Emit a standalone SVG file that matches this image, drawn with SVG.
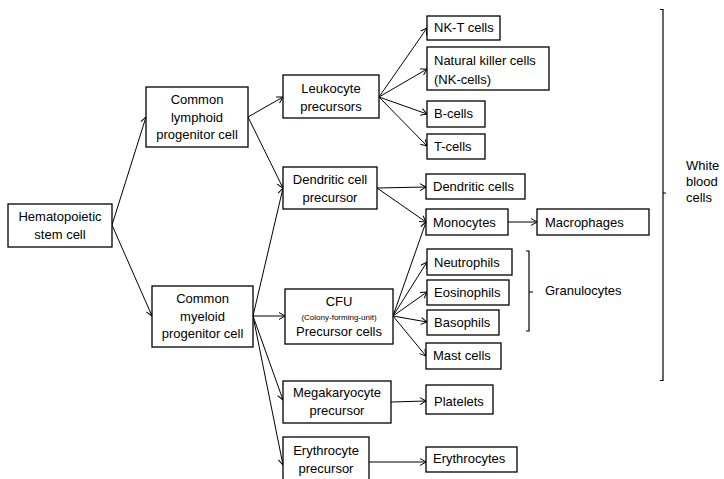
<svg xmlns="http://www.w3.org/2000/svg" width="724" height="479" viewBox="0 0 724 479">
<defs>
<marker id="ah" markerWidth="10" markerHeight="10" refX="9" refY="5" orient="auto" markerUnits="userSpaceOnUse">
<path d="M3,1.5 L9,5 L3,8.5" fill="none" stroke="#000" stroke-width="1"/>
</marker>
<style>
.b{fill:#fff;stroke:#000;stroke-width:1.3}
text{font-family:"Liberation Sans",Arial,sans-serif;font-size:13px;fill:#000}
.c{text-anchor:middle}
.s{font-size:8px}
.e line{stroke:#000;stroke-width:1;marker-end:url(#ah)}
.k{fill:none;stroke:#000;stroke-width:1.2}
</style>
</defs>
<rect width="724" height="479" fill="#fff"/>
<g id="connectors" class="e">
<line x1="112" y1="225" x2="146" y2="117"/>
<line x1="112" y1="225" x2="152" y2="316"/>
<line x1="248" y1="117" x2="283" y2="97"/>
<line x1="248" y1="117" x2="283" y2="188"/>
<line x1="253" y1="316" x2="283" y2="188"/>
<line x1="253" y1="316" x2="285" y2="316"/>
<line x1="253" y1="316" x2="283" y2="400"/>
<line x1="253" y1="316" x2="283" y2="465"/>
<line x1="379" y1="97" x2="427" y2="28"/>
<line x1="379" y1="97" x2="427" y2="69"/>
<line x1="379" y1="97" x2="427" y2="114"/>
<line x1="379" y1="97" x2="427" y2="146"/>
<line x1="377" y1="188" x2="426" y2="187"/>
<line x1="377" y1="188" x2="426" y2="222"/>
<line x1="508" y1="222" x2="537" y2="222"/>
<line x1="393" y1="316" x2="426" y2="222"/>
<line x1="393" y1="316" x2="427" y2="262"/>
<line x1="393" y1="316" x2="427" y2="292"/>
<line x1="393" y1="316" x2="427" y2="322"/>
<line x1="393" y1="316" x2="426" y2="356"/>
<line x1="391" y1="402" x2="426" y2="401"/>
<line x1="369" y1="462" x2="426" y2="462"/>
</g>
<g id="hsc"><rect class="b" x="8" y="204" width="104" height="43"/><text class="c" x="60" y="221">Hematopoietic</text><text class="c" x="60" y="238.5">stem cell</text></g>
<g id="clp"><rect class="b" x="146" y="87" width="102" height="60"/><text class="c" x="197" y="103.5">Common</text><text class="c" x="197" y="121.5">lymphoid</text><text class="c" x="197" y="138.5">progenitor cell</text></g>
<g id="cmp"><rect class="b" x="152" y="286" width="101" height="61"/><text class="c" x="202.5" y="303">Common</text><text class="c" x="202.5" y="320.5">myeloid</text><text class="c" x="202.5" y="338">progenitor cell</text></g>
<g id="leuko"><rect class="b" x="283" y="75" width="96" height="43"/><text class="c" x="331" y="93">Leukocyte</text><text class="c" x="331" y="110.5">precursors</text></g>
<g id="dcp"><rect class="b" x="283" y="167" width="94" height="42"/><text class="c" x="330" y="184">Dendritic cell</text><text class="c" x="330" y="202">precursor</text></g>
<g id="cfu"><rect class="b" x="285" y="289" width="108" height="55"/><text class="c" x="339" y="306">CFU</text><text class="c s" x="339" y="320">(Colony-forming-unit)</text><text class="c" x="339" y="336">Precursor cells</text></g>
<g id="mega"><rect class="b" x="283" y="381" width="108" height="42"/><text class="c" x="337" y="397">Megakaryocyte</text><text class="c" x="337" y="415">precursor</text></g>
<g id="ery"><rect class="b" x="283" y="437" width="86" height="46"/><text class="c" x="326" y="454.5">Erythrocyte</text><text class="c" x="326" y="472.5">precursor</text></g>
<g id="nkt"><rect class="b" x="427" y="16" width="73" height="24"/><text x="434" y="32">NK-T cells</text></g>
<g id="nk"><rect class="b" x="427" y="47" width="122" height="43"/><text x="434" y="65">Natural killer cells</text><text x="434" y="84">(NK-cells)</text></g>
<g id="bcells"><rect class="b" x="427" y="101" width="58" height="26"/><text x="434" y="118">B-cells</text></g>
<g id="tcells"><rect class="b" x="427" y="134" width="58" height="25"/><text x="434" y="150.5">T-cells</text></g>
<g id="dc"><rect class="b" x="426" y="174" width="99" height="25"/><text x="433" y="190.5">Dendritic cells</text></g>
<g id="mono"><rect class="b" x="426" y="209" width="82" height="26"/><text x="433" y="226.5">Monocytes</text></g>
<g id="macro"><rect class="b" x="537" y="209" width="112" height="26"/><text x="545" y="226.5">Macrophages</text></g>
<g id="neut"><rect class="b" x="427" y="249" width="85" height="26"/><text x="434" y="266.5">Neutrophils</text></g>
<g id="eos"><rect class="b" x="427" y="280" width="82" height="25"/><text x="434" y="296.5">Eosinophils</text></g>
<g id="baso"><rect class="b" x="427" y="310" width="72" height="25"/><text x="434" y="327">Basophils</text></g>
<g id="mast"><rect class="b" x="426" y="343" width="75" height="26"/><text x="433" y="360">Mast cells</text></g>
<g id="plate"><rect class="b" x="426" y="385" width="67" height="29"/><text x="434" y="406">Platelets</text></g>
<g id="eryth"><rect class="b" x="426" y="447" width="91" height="25"/><text x="433" y="463">Erythrocytes</text></g>
<g id="granulocytes"><path class="k" d="M526,251 H529 V331 H526 M529,292 H533"/><text x="545" y="295">Granulocytes</text></g>
<g id="wbc"><path class="k" d="M660,9.5 H663 V380.5 H660 M663,193 H666"/><text x="686" y="169.5">White</text><text x="686" y="186">blood</text><text x="686" y="202">cells</text></g>
</svg>
